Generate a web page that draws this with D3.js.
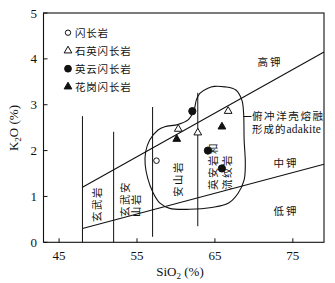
<!DOCTYPE html>
<html>
<head>
<meta charset="utf-8">
<script src="https://cdn.jsdelivr.net/npm/d3@7"></script>
<style>
  body { margin: 0; background: #fff; }
  svg { display: block; }
  .num { font-family: "Liberation Serif", "DejaVu Serif", serif; font-size: 13px; fill: #111; }
  .cjk { font-family: "Noto Sans CJK SC", sans-serif; font-size: 10.5px; fill: #111; }
</style>
</head>
<body>
<svg id="chart" width="335" height="283"></svg>
<script>
// legend / series names
var seriesNames = ["闪长岩", "石英闪长岩", "英云闪长岩", "花岗闪长岩"];

// samples [SiO2, K2O]
var diorite = [[57.5, 1.78]];
var qtzDiorite = [[66.7, 2.86], [60.3, 2.47], [62.8, 2.39]];
var tonalite = [[62.1, 2.86], [64.1, 2.0], [65.9, 1.61]];
var granodiorite = [[65.9, 2.52], [60.1, 2.25]];

// K-series boundaries
var lowMedLine = [[48, 0.3], [79, 1.7]];
var medHighLine = [[48, 1.2], [79, 4.15]];

// SiO2 dividers [SiO2, K2O bottom, K2O top]
var siDividers = [[48, 0, 2.75], [52, 0, 2.41], [57, 0.12, 2.95], [62.8, 0.35, 3.26]];

// slab-melt adakite field outline
var adakiteField = [
  [64.1, 3.36], [63.06, 3.25], [62.63, 3.11], [62.32, 2.88], [61.55, 2.67],
  [60.27, 2.57], [58.56, 2.52], [57.7, 2.45], [56.63, 2.23], [56.11, 1.97],
  [56.05, 1.69], [56.37, 1.4], [57.01, 1.1], [57.91, 0.86], [59.2, 0.74],
  [61.77, 0.72], [64.6, 0.76], [66.7, 0.85], [67.98, 1.07], [68.75, 1.36],
  [68.9, 1.73], [68.75, 2.23], [68.68, 2.82], [68.46, 3.1], [67.69, 3.32],
  [66.27, 3.39], [64.9, 3.4]
];

var xTicks = [45, 55, 65, 75];
var yTicks = [0, 1, 2, 3, 4, 5];

var svg = d3.select("#chart");

var x = d3.scaleLinear().domain([43, 79]).range([43.5, 324]);
var y = d3.scaleLinear().domain([0, 5]).range([242.3, 13]);

// frame
svg.append("rect")
  .attr("x", x(43)).attr("y", y(5))
  .attr("width", x(79) - x(43)).attr("height", y(0) - y(5))
  .attr("fill", "none").attr("stroke", "#111").attr("stroke-width", 1.1);

// inward ticks
svg.selectAll(".xt").data(xTicks).enter().append("line")
  .attr("x1", function(d) { return x(d); }).attr("x2", function(d) { return x(d); })
  .attr("y1", y(0)).attr("y2", y(0) - 4)
  .attr("stroke", "#111");
svg.selectAll(".yt").data(yTicks).enter().append("line")
  .attr("x1", x(43)).attr("x2", x(43) + 4)
  .attr("y1", function(d) { return y(d); }).attr("y2", function(d) { return y(d); })
  .attr("stroke", "#111");

svg.selectAll(".xl").data(xTicks).enter().append("text")
  .attr("class", "num")
  .attr("x", function(d) { return x(d); }).attr("y", 260)
  .attr("text-anchor", "middle")
  .text(function(d) { return d; });
svg.selectAll(".yl").data(yTicks).enter().append("text")
  .attr("class", "num")
  .attr("x", 37).attr("y", function(d) { return y(d) + 4.5; })
  .attr("text-anchor", "end")
  .text(function(d) { return d; });

// axis titles
var xt = svg.append("text").attr("class", "num")
  .attr("x", 180).attr("y", 276).attr("text-anchor", "middle");
xt.append("tspan").text("SiO");
xt.append("tspan").attr("font-size", 9).attr("dy", 3).text("2");
xt.append("tspan").attr("dy", -3).text(" (%)");

var yt = svg.append("text").attr("class", "num")
  .attr("transform", "translate(18,128) rotate(-90)").attr("text-anchor", "middle");
yt.append("tspan").text("K");
yt.append("tspan").attr("font-size", 9).attr("dy", 3).text("2");
yt.append("tspan").attr("dy", -3).text("O (%)");

// dividers and boundaries
svg.selectAll(".div").data(siDividers).enter().append("line")
  .attr("x1", function(d) { return x(d[0]); }).attr("x2", function(d) { return x(d[0]); })
  .attr("y1", function(d) { return y(d[1]); }).attr("y2", function(d) { return y(d[2]); })
  .attr("stroke", "#111").attr("stroke-width", 1);

var line = d3.line().x(function(d) { return x(d[0]); }).y(function(d) { return y(d[1]); });
[lowMedLine, medHighLine].forEach(function(b) {
  svg.append("path").attr("d", line(b))
    .attr("fill", "none").attr("stroke", "#111").attr("stroke-width", 1.1);
});

svg.append("path")
  .attr("d", line.curve(d3.curveCatmullRomClosed.alpha(0.5))(adakiteField))
  .attr("fill", "none").attr("stroke", "#111").attr("stroke-width", 1.1);

// leader + field label
svg.append("line").attr("x1", 243.5).attr("x2", 251.5).attr("y1", 116.5).attr("y2", 116.5)
  .attr("stroke", "#111");
svg.append("text").attr("class", "cjk").attr("x", 252).attr("y", 119.5)
  .attr("font-size", 10).attr("letter-spacing", 1.6).text("俯冲洋壳熔融");
var t2 = svg.append("text").attr("class", "cjk").attr("x", 252).attr("y", 133)
  .attr("font-size", 10).attr("letter-spacing", 1);
t2.append("tspan").text("形成的");
t2.append("tspan").attr("font-family", "Liberation Serif").attr("font-size", 11.5)
  .attr("letter-spacing", 0.2).text("adakite");

// K-series labels
svg.append("text").attr("class", "cjk").attr("x", 270).attr("y", 66)
  .attr("text-anchor", "middle").attr("letter-spacing", 2).text("高钾");
svg.append("text").attr("class", "cjk").attr("x", 286).attr("y", 166.5)
  .attr("text-anchor", "middle").attr("letter-spacing", 2).text("中钾");
svg.append("text").attr("class", "cjk").attr("x", 286).attr("y", 215)
  .attr("text-anchor", "middle").attr("letter-spacing", 2).text("低钾");

// rotated rock names
function vtext(cx, cy, lines, gap) {
  var g = svg.append("text").attr("class", "cjk")
    .attr("transform", "translate(" + cx + "," + cy + ") rotate(-90)")
    .attr("letter-spacing", 1.5);
  lines.forEach(function(s, i) {
    g.append("tspan").attr("x", 0).attr("y", i * gap).text(s);
  });
  return g;
}
vtext(100.5, 222, ["玄武岩"], 0);
vtext(129, 217, ["玄武安", "山岩"], 11);
vtext(182, 197, ["安山岩"], 0);
vtext(216.5, 190, ["英安岩和", "流纹岩"], 14.5);

// symbols
var triangle = d3.symbol().type(d3.symbolTriangle).size(26);
function drawPts(data, kind) {
  data.forEach(function(d) {
    if (kind === "circleOpen" || kind === "circleFill") {
      svg.append("circle").attr("cx", x(d[0])).attr("cy", y(d[1])).attr("r", kind === "circleFill" ? 3.6 : 2.8)
        .attr("fill", kind === "circleFill" ? "#111" : "#fff").attr("stroke", "#111").attr("stroke-width", 1);
    } else {
      svg.append("path").attr("d", triangle())
        .attr("transform", "translate(" + x(d[0]) + "," + y(d[1]) + ")")
        .attr("fill", kind === "triFill" ? "#111" : "#fff").attr("stroke", "#111").attr("stroke-width", 1);
    }
  });
}
var kinds = ["circleOpen", "triOpen", "circleFill", "triFill"];
drawPts(diorite, kinds[0]);
drawPts(qtzDiorite, kinds[1]);
drawPts(tonalite, kinds[2]);
drawPts(granodiorite, kinds[3]);

// legend
seriesNames.forEach(function(name, i) {
  var ly = 32.7 + i * 18;
  var k = kinds[i];
  if (k === "circleOpen" || k === "circleFill") {
    svg.append("circle").attr("cx", 68).attr("cy", ly).attr("r", k === "circleFill" ? 3.4 : 2.7)
      .attr("fill", k === "circleFill" ? "#111" : "#fff").attr("stroke", "#111");
  } else {
    svg.append("path").attr("d", triangle())
      .attr("transform", "translate(68," + ly + ")")
      .attr("fill", k === "triFill" ? "#111" : "#fff").attr("stroke", "#111");
  }
  svg.append("text").attr("class", "cjk").attr("x", 75).attr("y", ly + 4)
    .attr("letter-spacing", 0.8).text(name);
});
</script>
</body>
</html>
